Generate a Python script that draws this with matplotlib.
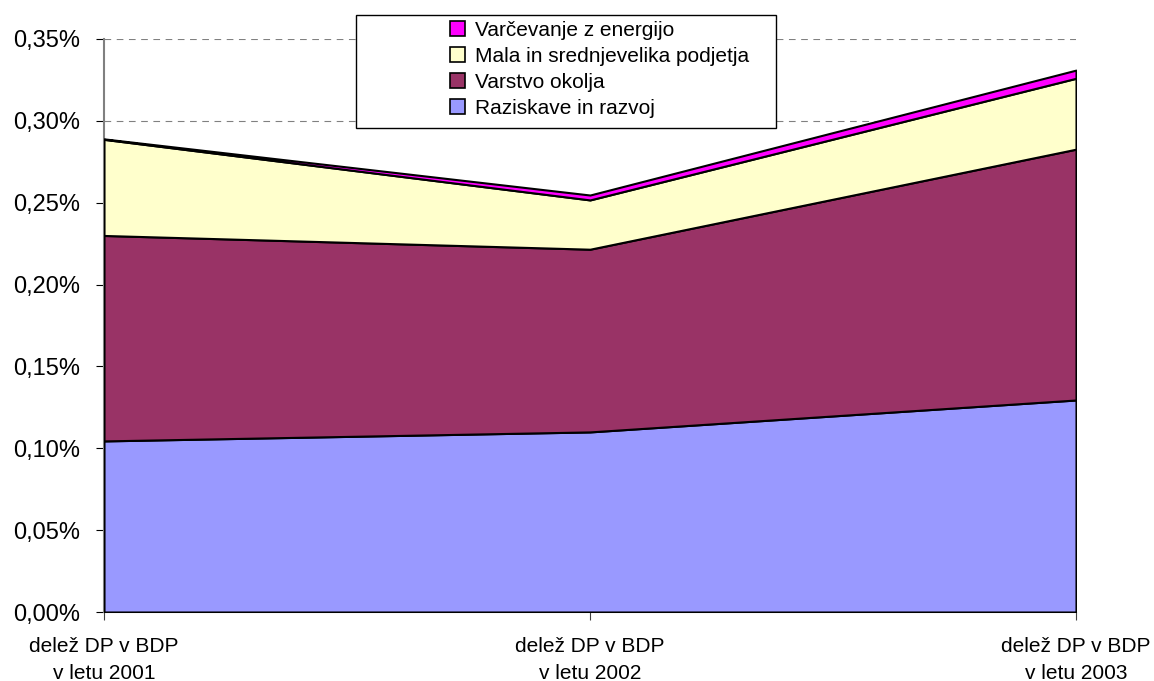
import matplotlib
matplotlib.use('Agg')
import matplotlib.pyplot as plt
from matplotlib.patches import Rectangle
from matplotlib.ticker import FuncFormatter

plt.rcParams['font.family'] = ['Liberation Sans', 'DejaVu Sans']

# Kategorije in vrednosti (v % BDP)
kategorije = ['delež DP v BDP\nv letu 2001', 'delež DP v BDP\nv letu 2002', 'delež DP v BDP\nv letu 2003']
raziskave = [0.1045, 0.1100, 0.1295]
varstvo = [0.1255, 0.1116, 0.1532]
mala_podjetja = [0.0587, 0.0301, 0.0433]
energija = [0.0003, 0.0030, 0.0050]

imena = ['Raziskave in razvoj', 'Varstvo okolja', 'Mala in srednjevelika podjetja', 'Varčevanje z energijo']
barve = ['#9999FF', '#993366', '#FFFFCC', '#FF00FF']
yticki = [0.0, 0.05, 0.10, 0.15, 0.20, 0.25, 0.30, 0.35]

W, H = 1154, 681
fig = plt.figure(figsize=(W / 100, H / 100), dpi=100)
ax = fig.add_axes([104 / W, 1 - 612 / H, (1076 - 104) / W, (612 - 39) / H])

x = list(range(len(kategorije)))
ax.stackplot(x, raziskave, varstvo, mala_podjetja, energija, colors=barve,
             edgecolor='black', linewidth=1.5, zorder=3)

ax.set_xlim(0, 2)
ax.set_ylim(0, 0.35)
ax.set_yticks(yticki)
ax.yaxis.set_major_formatter(FuncFormatter(lambda v, p: f'{v:.2f}%'.replace('.', ',')))
ax.set_xticks(x)
ax.set_xticklabels(kategorije, fontsize=15, linespacing=1.55)
ax.tick_params(axis='y', labelsize=17, length=6, direction='out', pad=11, color='black')
ax.tick_params(axis='x', length=6, direction='out', pad=12, color='#404040')

# mreža
ax.grid(axis='y', color='#808080', linestyle=(0, (6, 5)), linewidth=0.8, zorder=1)
ax.set_axisbelow(True)
for s in ['top', 'right']:
    ax.spines[s].set_visible(False)
ax.spines['left'].set_color('#808080')
ax.spines['left'].set_linewidth(1.5)
ax.spines['bottom'].set_color('#808080')

# legenda
okvir = Rectangle((356 / W, 1 - 128 / H), (776 - 356) / W, (128 - 15) / H,
                  transform=fig.transFigure, facecolor='white', edgecolor='black',
                  linewidth=1.0, zorder=4)
fig.add_artist(okvir)
rocke = [Rectangle((0, 0), 1, 1, facecolor=b, edgecolor='black', linewidth=1.2) for b in barve]
leg = fig.legend(rocke[::-1], imena[::-1], loc='upper left',
                 bbox_to_anchor=(450 / W, 1 - 21 / H), frameon=False, fontsize=15,
                 handlelength=0.7, handleheight=0.7, handletextpad=0.5,
                 labelspacing=0.33, borderpad=0, borderaxespad=0)
leg.set_zorder(5)

fig.savefig('out.png', dpi=100)
